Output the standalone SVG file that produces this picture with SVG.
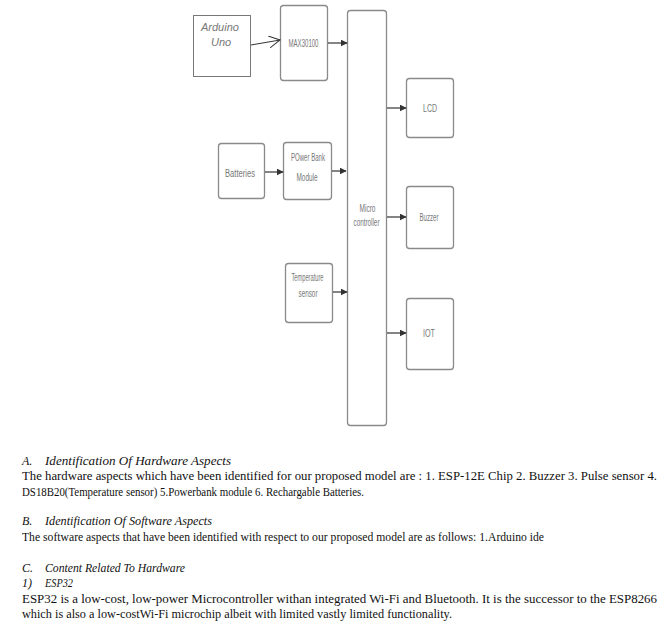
<svg xmlns="http://www.w3.org/2000/svg" width="666" height="628" viewBox="0 0 666 628">
<defs>
<marker id="ah" viewBox="0 0 10 10" refX="9" refY="5" markerWidth="7" markerHeight="7" markerUnits="userSpaceOnUse" orient="auto">
<path d="M0,0 L10,5 L0,10 z" fill="#333"/>
</marker>
<marker id="open" viewBox="0 0 12 12" refX="11" refY="6" markerWidth="12" markerHeight="12" markerUnits="userSpaceOnUse" orient="auto">
<path d="M0,0 L11,6 L0,12" fill="none" stroke="#333" stroke-width="1"/>
</marker>
</defs>
<style>
.box{fill:#fff;stroke:#8a8a8a;stroke-width:1.3}
.plain{fill:#fff;stroke:#777;stroke-width:1}
.lbl{font-family:"Liberation Sans",Arial,sans-serif;font-size:10px;fill:#777;text-anchor:middle;dominant-baseline:central}
.ard{font-family:"Liberation Sans",Arial,sans-serif;font-size:11px;fill:#777;font-style:italic}
.con{stroke:#333;stroke-width:1.2;fill:none;marker-end:url(#ah)}
.t{font-family:"Liberation Serif",Tinos,"Times New Roman",serif;font-size:12px;fill:#111}
.h{font-family:"Liberation Serif",Tinos,"Times New Roman",serif;font-size:12px;fill:#111;font-style:italic}
</style>
<rect width="666" height="628" fill="#fff"/>
<g id="arduino">
<rect class="plain" x="193.5" y="15.5" width="57" height="61"/>
<text class="ard" x="201" y="31">Arduino</text>
<text class="ard" x="211" y="46">Uno</text>
</g>
<g id="max30100">
<rect class="box" x="280.5" y="5.5" width="47" height="75" rx="3"/>
<text class="lbl" x="303.5" y="43" textLength="30" lengthAdjust="spacingAndGlyphs">MAX30100</text>
</g>
<g id="batteries">
<rect class="box" x="218.5" y="143.5" width="46" height="55" rx="3"/>
<text class="lbl" x="240" y="173" textLength="30" lengthAdjust="spacingAndGlyphs">Batteries</text>
</g>
<g id="powerbank">
<rect class="box" x="283.5" y="142.5" width="48" height="57" rx="3"/>
<text class="lbl" x="308" y="157" textLength="34" lengthAdjust="spacingAndGlyphs">POwer Bank</text>
<text class="lbl" x="307" y="177" textLength="21" lengthAdjust="spacingAndGlyphs">Module</text>
</g>
<g id="temperature">
<rect class="box" x="285.5" y="263.5" width="47" height="59" rx="3"/>
<text class="lbl" x="307.5" y="277" textLength="32" lengthAdjust="spacingAndGlyphs">Temperature</text>
<text class="lbl" x="308" y="293" textLength="19" lengthAdjust="spacingAndGlyphs">sensor</text>
</g>
<g id="microcontroller">
<rect class="box" x="347.5" y="10.5" width="39" height="415" rx="3"/>
<text class="lbl" x="367.5" y="208" textLength="16" lengthAdjust="spacingAndGlyphs">Micro</text>
<text class="lbl" x="366.5" y="222" textLength="26" lengthAdjust="spacingAndGlyphs">controller</text>
</g>
<g id="lcd">
<rect class="box" x="406.5" y="78.5" width="47" height="59" rx="3"/>
<text class="lbl" x="430" y="108" textLength="14" lengthAdjust="spacingAndGlyphs">LCD</text>
</g>
<g id="buzzer">
<rect class="box" x="406.5" y="186.5" width="47" height="62" rx="3"/>
<text class="lbl" x="429" y="217" textLength="19" lengthAdjust="spacingAndGlyphs">Buzzer</text>
</g>
<g id="iot">
<rect class="box" x="406.5" y="298.5" width="47" height="71" rx="3"/>
<text class="lbl" x="429" y="333" textLength="12" lengthAdjust="spacingAndGlyphs">IOT</text>
</g>
<g id="connectors">
<line x1="251" y1="45" x2="280" y2="40" stroke="#333" stroke-width="1" marker-end="url(#open)"/>
<line class="con" x1="328" y1="43" x2="347" y2="43"/>
<line class="con" x1="265" y1="172" x2="283" y2="172"/>
<line class="con" x1="332" y1="171" x2="346" y2="171"/>
<line class="con" x1="333" y1="292" x2="347" y2="292"/>
<line class="con" x1="387" y1="108" x2="406" y2="108"/>
<line class="con" x1="387" y1="217" x2="406" y2="217"/>
<line class="con" x1="387" y1="333" x2="406" y2="333"/>
</g>
<g id="text">
<text class="h" x="22" y="465">A.</text>
<text class="h" x="45" y="465" textLength="186" lengthAdjust="spacingAndGlyphs">Identification Of Hardware Aspects</text>
<text class="t" x="22" y="480" textLength="635" lengthAdjust="spacingAndGlyphs">The hardware aspects which have been identified for our proposed model are : 1. ESP-12E Chip 2. Buzzer 3. Pulse sensor 4.</text>
<text class="t" x="22" y="496" textLength="342" lengthAdjust="spacingAndGlyphs">DS18B20(Temperature sensor) 5.Powerbank module 6. Rechargable Batteries.</text>
<text class="h" x="22" y="525">B.</text>
<text class="h" x="45" y="525" textLength="167" lengthAdjust="spacingAndGlyphs">Identification Of Software Aspects</text>
<text class="t" x="22" y="541" textLength="522" lengthAdjust="spacingAndGlyphs">The software aspects that have been identified with respect to our proposed model are as follows: 1.Arduino ide</text>
<text class="h" x="22" y="572">C.</text>
<text class="h" x="45" y="572" textLength="140" lengthAdjust="spacingAndGlyphs">Content Related To Hardware</text>
<text class="h" x="22" y="587">1)</text>
<text class="h" x="45" y="587" textLength="28" lengthAdjust="spacingAndGlyphs">ESP32</text>
<text class="t" x="22" y="603" textLength="635" lengthAdjust="spacingAndGlyphs">ESP32 is a low-cost, low-power Microcontroller withan integrated Wi-Fi and Bluetooth. It is the successor to the ESP8266</text>
<text class="t" x="22" y="618" textLength="430" lengthAdjust="spacingAndGlyphs">which is also a low-costWi-Fi microchip albeit with limited vastly limited functionality.</text>
</g>
</svg>
